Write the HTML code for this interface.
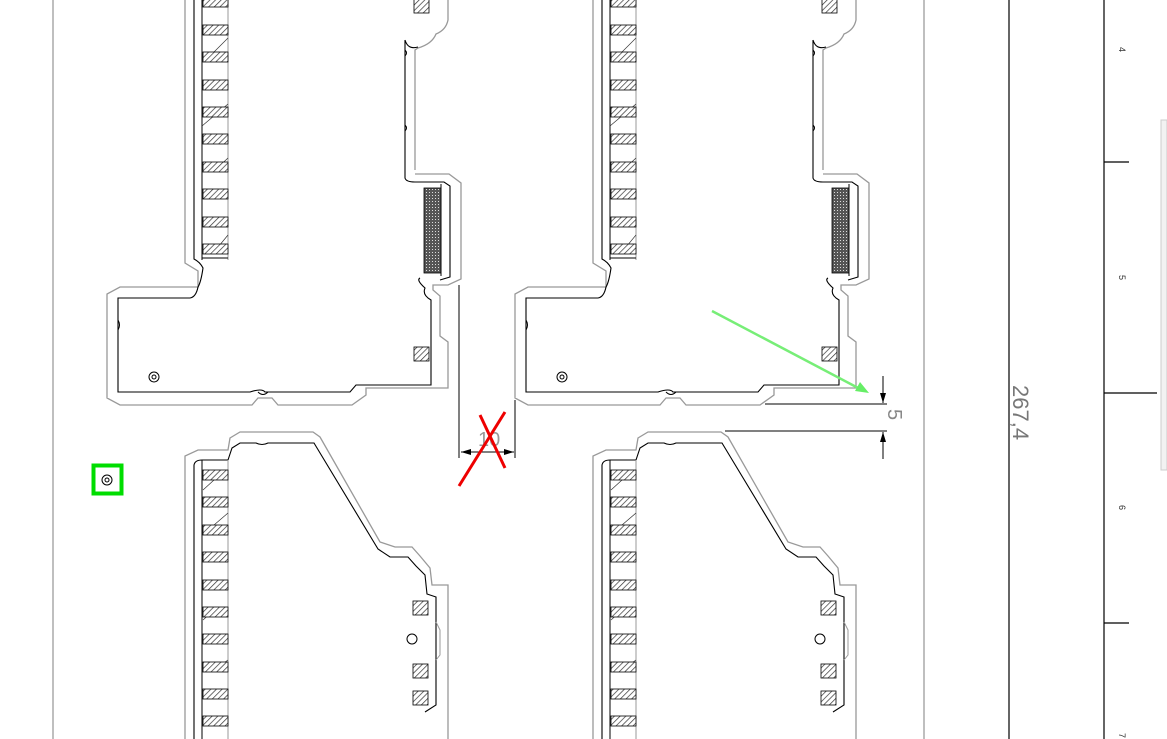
<!DOCTYPE html>
<html><head><meta charset="utf-8"><style>
html,body{margin:0;padding:0;background:#fff;}
svg{display:block;}
</style></head><body>
<svg width="1167" height="739" viewBox="0 0 1167 739" xmlns="http://www.w3.org/2000/svg" font-family="Liberation Sans, sans-serif">
<defs>
<pattern id="h" width="4" height="4" patternUnits="userSpaceOnUse" patternTransform="rotate(45)">
<rect width="4" height="4" fill="#fff"/><line x1="0" y1="0" x2="0" y2="4" stroke="#333" stroke-width="1.4"/>
</pattern>
<pattern id="d" width="3" height="3" patternUnits="userSpaceOnUse">
<rect width="3" height="3" fill="#555"/><rect width="1" height="1" fill="#ddd"/>
</pattern>
<g id="top">
 <path d="M185 0 V263 L198 271 V287 H120 L107 294 V398 L120 405 H252 L258 398 H272 L278 405 H352 L366 395 V388 H448 V342 L440 336 V296 L433 290 V285 L448 285 L461 279 V183 L449 174 H415 M448 0 V20 Q446 30 436 34 Q432 44 418 48 L415 50 V170" fill="none" stroke="#999" stroke-width="1.3"/>
 <path d="M194 0 V259 Q200 262 203 268 Q201 282 198 287 Q196 297 190 298 H118 V392 H250 Q262 388 265 392 H350 L356 385 H431 V300 Q422 295 425 288 Q416 280 420 278 M405 40 V178 Q406 182 415 182 H444 L450 186 V277 L440 280 M405 40 Q408 50 418 47" fill="none" stroke="#000" stroke-width="1.1"/>
 <line x1="202" y1="0" x2="202" y2="260" stroke="#000"/>
 <line x1="228" y1="0" x2="228" y2="260" stroke="#999"/>
 <line x1="202" y1="258" x2="228" y2="258" stroke="#000"/>
 <path d="M214 52 L228 38 M202 126 L228 104 M214 171 L228 158 M214 252 L228 235" stroke="#333" stroke-width="0.7"/>
 <g fill="url(#h)" stroke="#000" stroke-width="0.8">
  <rect x="203" y="-3" width="25" height="10"/><rect x="203" y="25" width="25" height="10"/>
  <rect x="203" y="52" width="25" height="10"/><rect x="203" y="80" width="25" height="10"/>
  <rect x="203" y="107" width="25" height="10"/><rect x="203" y="134" width="25" height="10"/>
  <rect x="203" y="162" width="25" height="10"/><rect x="203" y="189" width="25" height="10"/>
  <rect x="203" y="217" width="25" height="10"/><rect x="203" y="244" width="25" height="10"/>
  <rect x="414" y="-1" width="15" height="14"/><rect x="414" y="347" width="15" height="14"/>
 </g>
 <rect x="424" y="188" width="17" height="85" fill="url(#d)" stroke="#000" stroke-width="0.8"/>
 <line x1="441" y1="184" x2="441" y2="276" stroke="#000"/>
 <circle cx="154" cy="377" r="5" fill="none" stroke="#000"/><circle cx="154" cy="377" r="2" fill="none" stroke="#000"/>
 <path d="M405 50 q3 3 0 6 M405 125 q3 3 0 6 M118 320 q3 5 0 10 M258 392 q5 5 10 0" fill="none" stroke="#000"/>
</g>
<g id="bot">
 <path d="M185 739 V456 L198 450 H228 L230 438 L240 432 H313 L320 437 L380 542 L395 547 H412 L420 556 L430 568 L432 585 H448 V739" fill="none" stroke="#999" stroke-width="1.3"/>
 <path d="M194 739 V465 Q195 460 202 460 H228 L232 448 L240 443 H256 Q262 446 268 443 H314 L378 549 L390 557 H408 L416 566 L425 575 L427 594 L436 597 V705 L425 712" fill="none" stroke="#000" stroke-width="1.1"/>
 <path d="M436 622 L440 630 V655 L436 660" fill="none" stroke="#999"/>
 <line x1="202" y1="460" x2="202" y2="739" stroke="#000"/>
 <line x1="228" y1="460" x2="228" y2="739" stroke="#999"/>
 <path d="M203 490 L214 480 M214 525 L228 513 M203 620 L214 610 M214 670 L228 660" stroke="#333" stroke-width="0.7"/>
 <g fill="url(#h)" stroke="#000" stroke-width="0.8">
  <rect x="203" y="470" width="25" height="10"/><rect x="203" y="497" width="25" height="10"/>
  <rect x="203" y="525" width="25" height="10"/><rect x="203" y="552" width="25" height="10"/>
  <rect x="203" y="580" width="25" height="10"/><rect x="203" y="607" width="25" height="10"/>
  <rect x="203" y="634" width="25" height="10"/><rect x="203" y="662" width="25" height="10"/>
  <rect x="203" y="689" width="25" height="10"/><rect x="203" y="716" width="25" height="10"/>
  <rect x="413" y="601" width="15" height="14"/><rect x="413" y="664" width="15" height="14"/>
  <rect x="413" y="691" width="15" height="14"/>
 </g>
 <circle cx="412" cy="639" r="5" fill="none" stroke="#000"/>
</g>
</defs>
<rect width="1167" height="739" fill="#fff"/>
<line x1="53" y1="0" x2="53" y2="739" stroke="#aaa" stroke-width="1.5"/>
<line x1="924" y1="0" x2="924" y2="739" stroke="#aaa" stroke-width="1.5"/>
<line x1="1009" y1="0" x2="1009" y2="739" stroke="#000" stroke-width="1.2"/>
<line x1="1104" y1="0" x2="1104" y2="739" stroke="#000" stroke-width="1.2"/>
<line x1="1104" y1="162" x2="1129" y2="162" stroke="#000" stroke-width="1.3"/>
<line x1="1104" y1="393" x2="1157" y2="393" stroke="#000" stroke-width="1.3"/>
<line x1="1104" y1="623" x2="1129" y2="623" stroke="#000" stroke-width="1.3"/>
<g font-size="9" fill="#333">
<text transform="translate(1119,47) rotate(90)">4</text>
<text transform="translate(1119,275) rotate(90)">5</text>
<text transform="translate(1119,505) rotate(90)">6</text>
<text transform="translate(1119,733) rotate(90)">7</text>
</g>
<rect x="1161" y="120" width="6" height="350" fill="#f2f2f2" stroke="#ccc"/>
<text transform="translate(1013,385) rotate(90)" font-size="22" fill="#777">267,4</text>
<use href="#top"/><use href="#bot"/>
<use href="#top" transform="translate(408,0)"/><use href="#bot" transform="translate(408,0)"/>
<line x1="459" y1="285" x2="459" y2="458" stroke="#000"/>
<line x1="515" y1="400" x2="515" y2="458" stroke="#000"/>
<line x1="461" y1="452" x2="514" y2="452" stroke="#000"/>
<path d="M461 452 l10 -3 v6z M514 452 l-10 -3 v6z" fill="#000"/>
<text x="478" y="446" font-size="20" fill="#999">10</text>
<path d="M459 486 L505 412 M480 415 L505 468" stroke="#e00" stroke-width="3" fill="none"/>
<line x1="765" y1="404" x2="887" y2="404" stroke="#000"/>
<line x1="725" y1="431" x2="887" y2="431" stroke="#000"/>
<line x1="883" y1="376" x2="883" y2="403" stroke="#000"/>
<path d="M883 403 l-3 -10 h6z" fill="#000"/>
<line x1="883" y1="432" x2="883" y2="459" stroke="#000"/>
<path d="M883 432 l-3 10 h6z" fill="#000"/>
<text transform="translate(888,409) rotate(90)" font-size="20" fill="#888">5</text>
<line x1="712" y1="311" x2="862" y2="390" stroke="#7e7" stroke-width="2.5"/>
<path d="M869 393 l-14 -2 l5 -9z" fill="#6e6"/>
<rect x="93.5" y="465.5" width="28" height="28" fill="none" stroke="#0d0" stroke-width="4"/>
<circle cx="107" cy="480" r="5" fill="none" stroke="#000"/><circle cx="107" cy="480" r="2" fill="none" stroke="#000"/>
</svg>
</body></html>
